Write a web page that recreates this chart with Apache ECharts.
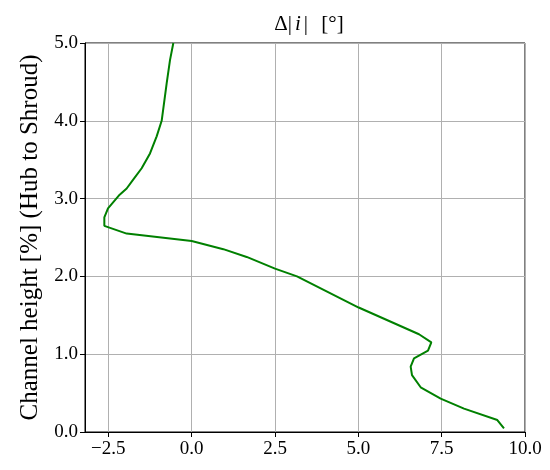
<!DOCTYPE html>
<html>
<head>
<meta charset="utf-8">
<script src="https://cdn.jsdelivr.net/npm/echarts@6/dist/echarts.min.js"></script>
<style>html,body{margin:0;padding:0;background:#fff;}#c{width:550px;height:470px;}</style>
</head>
<body>
<div id="c"></div>
<script>
// Channel height [%] values
const heights = [5.0, 4.78, 4.48, 4.0, 3.80, 3.58, 3.39, 3.24, 3.13, 3.05, 2.875, 2.76, 2.65, 2.55, 2.455, 2.35, 2.25, 2.10, 2.0, 1.60, 1.256, 1.153, 1.045, 0.947, 0.84, 0.73, 0.575, 0.43, 0.30, 0.154, 0.047];
// Δ|i| [°] values
const deltaI = [-0.55, -0.65, -0.75, -0.90, -1.05, -1.25, -1.50, -1.76, -1.95, -2.16, -2.51, -2.62, -2.62, -1.95, 0.0, 0.95, 1.65, 2.5, 3.16, 5.01, 6.82, 7.19, 7.09, 6.67, 6.57, 6.61, 6.87, 7.47, 8.17, 9.17, 9.37];
const xTicks = [-2.5, 0.0, 2.5, 5.0, 7.5, 10.0];
const yTicks = [0, 1, 2, 3, 4, 5];

const font = 'Liberation Serif';
const chart = echarts.init(document.getElementById('c'), null, {renderer: 'canvas'});
const fmt = v => (v < 0 ? '\u2212' + Math.abs(v).toFixed(1) : v.toFixed(1));
chart.setOption({
  animation: false,
  backgroundColor: '#fff',
  title: {
    text: '{n|\u0394|}{i|i}{n||}{s| }{n|[\u00b0]}',
    left: 304, top: 9, textAlign: 'center',
    textStyle: {fontWeight: 'normal', fontFamily: font, fontSize: 21, color: '#000', rich: {
      n: {fontFamily: font, fontSize: 21, fontWeight: 'normal', color: '#000', padding: [0, 1, 0, 1]},
      s: {fontFamily: font, fontSize: 21, fontWeight: 'normal', color: '#000', padding: [0, 3, 0, 3]},
      i: {fontFamily: font, fontSize: 21, fontWeight: 'normal', fontStyle: 'italic', color: '#000', padding: [0, 2, 0, 2]}}}
  },
  grid: {left: 85, right: 25, top: 43, bottom: 38, show: true, borderColor: '#000', borderWidth: 1, backgroundColor: 'transparent'},
  xAxis: {
    type: 'value', min: -3.2, max: 10,
    axisLine: {show: true, onZero: false, lineStyle: {color: '#000', width: 1}},
    axisTick: {show: true, customValues: xTicks, inside: false, length: 5, lineStyle: {color: '#000'}},
    axisLabel: {customValues: xTicks, formatter: fmt, fontFamily: font, fontSize: 19, color: '#000', margin: 8},
    splitLine: {show: true, lineStyle: {color: '#b0b0b0', width: 1}}
  },
  yAxis: {
    type: 'value', min: 0, max: 5, interval: 1,
    name: 'Channel height [%] (Hub to Shroud)', nameLocation: 'middle', nameGap: 42,
    nameTextStyle: {fontFamily: font, fontSize: 25, color: '#000'},
    axisLine: {show: true, onZero: false, lineStyle: {color: '#000', width: 1}},
    axisTick: {show: true, inside: false, length: 5, lineStyle: {color: '#000'}},
    axisLabel: {formatter: v => v.toFixed(1), fontFamily: font, fontSize: 19, color: '#000', margin: 7},
    splitLine: {show: true, lineStyle: {color: '#b0b0b0', width: 1}}
  },
  series: [{
    type: 'line', showSymbol: false, smooth: false,
    data: heights.map((h, k) => [deltaI[k], h]),
    lineStyle: {color: '#008000', width: 2}, itemStyle: {color: '#008000'}
  }]
});
</script>
</body>
</html>
